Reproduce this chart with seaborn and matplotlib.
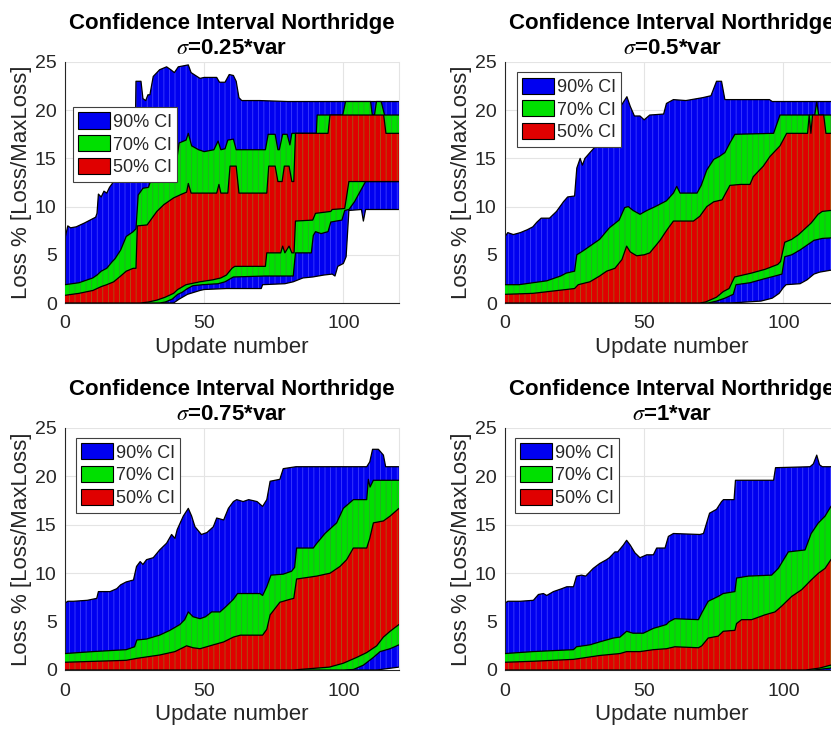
import numpy as np
import pandas as pd
import matplotlib
matplotlib.use("Agg")
import matplotlib.pyplot as plt
from matplotlib.patches import Patch
import seaborn as sns

sns.set_style("white")
plt.rcParams["font.family"] = ["Liberation Sans", "DejaVu Sans"]
plt.rcParams["mathtext.fontset"] = "stix"
plt.rcParams["hatch.linewidth"] = 0.5

# ---------------------------------------------------------------------------
# Confidence-interval envelopes (Loss %), one set per sigma scaling.
# Each bound is given by its own update numbers (x) and values (y).
# ---------------------------------------------------------------------------
sigma_labels = ["0.25", "0.5", "0.75", "1"]
ci_labels = ["90% CI", "70% CI", "50% CI"]

# sigma = 0.25*var
s025_hi90_x = [0, 1, 2, 4, 7, 9, 11, 11.5, 12, 13, 14, 15, 16, 17, 20, 23, 25.2, 25.5, 27.3, 28, 29, 29.8, 30.5,
               31.7, 34, 36.5, 38, 39.3, 40.7, 44.3, 45.3, 48.5, 50, 54.5, 55.5, 57.5, 59, 60.5, 61.5, 62.5, 63.5,
               70, 80, 120]
s025_hi90_y = [6.7, 8.0, 7.8, 7.9, 8.3, 8.6, 8.9, 9.3, 11.3, 11.0, 11.6, 11.4, 12.0, 12.4, 13.6, 15.0, 16.0, 23.0,
               23.0, 21.2, 21.0, 21.6, 21.6, 23.5, 24.2, 24.5, 24.2, 23.9, 24.5, 24.7, 23.9, 23.3, 23.4, 23.4, 22.9,
               22.9, 23.7, 23.6, 23.0, 21.3, 21.0, 21.0, 20.9, 20.9]
s025_lo90_x = [0, 39, 41, 44, 48.5, 50, 58, 70.5, 71, 79, 82, 85.5, 89, 93, 96, 97, 98, 100, 101, 102, 106.5,
               107.2, 108, 120]
s025_lo90_y = [0, 0, 0.4, 0.9, 1.3, 1.4, 1.5, 1.5, 1.9, 2.0, 2.2, 2.6, 2.7, 2.9, 3.0, 2.8, 3.8, 4.1, 4.8, 9.6, 9.7,
               8.5, 9.7, 9.7]
s025_hi70_x = [0, 5, 10, 11.5, 13, 15, 17, 18, 20, 22, 24.5, 25.5, 26.3, 28, 30, 31, 33, 36, 38, 40, 41, 43.5,
               44.3, 45.5, 48, 50, 53.5, 55, 56, 57.5, 58.5, 60.5, 61.5, 72, 73, 75.5, 76.5, 77, 78.2, 79.8, 80.8,
               81.5, 90.3, 90.6, 99.8, 100.8, 109.8, 110.4, 111.2, 111.9, 113.6, 114.8, 120]
s025_hi70_y = [1.9, 2.1, 2.6, 2.9, 3.3, 3.6, 4.3, 4.6, 5.5, 6.9, 7.4, 7.7, 11.2, 11.9, 12.0, 12.9, 13.1, 13.4, 13.8,
               14.5, 16.6, 16.9, 17.6, 16.3, 15.9, 15.7, 15.9, 16.8, 15.9, 16.0, 16.9, 17.0, 15.9, 15.9, 17.5, 17.5,
               15.9, 15.9, 17.5, 17.5, 16.4, 17.6, 17.6, 19.5, 19.5, 20.9, 20.9, 19.5, 19.5, 20.9, 20.9, 19.5, 19.5]
s025_lo70_x = [0, 34, 36, 38.5, 40.5, 42, 44, 46, 49.5, 55, 57.5, 60.5, 72, 82, 82.8, 88.5, 89.2, 90, 92, 94.5,
               95.5, 99.5, 100.5, 102, 104, 108, 120]
s025_lo70_y = [0, 0, 0.1, 0.4, 0.9, 1.1, 1.5, 1.8, 1.9, 2.0, 2.2, 2.7, 2.8, 2.8, 5.2, 5.2, 7.0, 7.4, 7.2, 7.4, 8.4,
               8.6, 9.6, 9.7, 10.5, 12.6, 12.6]
s025_hi50_x = [0, 5, 10, 13, 15, 17.5, 20, 22, 24.5, 25.5, 26, 29.5, 33, 35.5, 39, 42, 43.7, 44.3, 45.3, 54.5,
               55.3, 56, 58.5, 59.3, 61.5, 62.5, 72.5, 73.2, 75.5, 76.5, 78, 78.8, 80.5, 81.5, 82.2, 82.8, 94.5,
               95.2, 114.5, 115.3, 120]
s025_hi50_y = [0.8, 1.0, 1.3, 1.7, 1.9, 2.2, 2.8, 3.3, 3.6, 3.6, 8.0, 8.1, 9.5, 10.2, 10.9, 11.3, 11.5, 12.4, 11.4,
               11.4, 12.3, 11.4, 11.4, 14.2, 14.2, 11.4, 11.4, 14.2, 14.2, 12.6, 12.6, 14.2, 14.2, 12.6, 12.6, 17.6,
               17.6, 19.5, 19.5, 17.6, 17.6]
s025_lo50_x = [0, 27, 30, 33, 36, 39, 40.5, 43.5, 48.5, 53, 56, 58, 60, 61, 72, 72.5, 77.5, 78.2, 79, 80.5, 81.5,
               82.3, 82.8, 89, 90, 95.5, 96, 100.5, 102, 120]
s025_lo50_y = [0, 0, 0.1, 0.3, 0.6, 1.0, 1.4, 1.9, 2.2, 2.4, 2.6, 2.9, 3.6, 3.8, 3.8, 5.2, 5.2, 5.9, 5.2, 5.9, 5.2,
               5.2, 8.5, 8.6, 9.3, 9.5, 9.7, 9.8, 12.6, 12.6]

# sigma = 0.5*var
s050_hi90_x = [0, 1, 3, 5.5, 8, 10, 11.5, 13, 16, 18.5, 21, 22.5, 25, 25.8, 27, 27.8, 28.7, 30.5, 33, 34, 37, 40,
               42, 43.8, 45, 46.5, 48.5, 50, 52, 57, 58, 60.5, 65, 71, 74, 76, 77.8, 79, 95, 96, 120]
s050_hi90_y = [6.9, 7.3, 7.1, 7.3, 7.6, 7.9, 8.4, 8.8, 8.8, 9.5, 10.5, 11.0, 11.1, 14.0, 15.0, 14.3, 15.0, 15.6,
               16.4, 16.6, 18.0, 20.0, 20.6, 21.4, 20.4, 19.4, 19.4, 19.0, 19.5, 19.6, 20.7, 21.1, 21.0, 21.3, 21.5,
               23.0, 23.0, 21.1, 21.1, 20.9, 20.9]
s050_lo90_x = [0, 80, 84, 92, 96, 98.5, 100, 101, 106, 108.5, 111, 113, 117, 120]
s050_lo90_y = [0, 0, 0.05, 0.2, 0.5, 1.0, 1.6, 1.9, 2.0, 2.4, 3.0, 3.2, 3.4, 3.5]
s050_hi70_x = [0, 5, 10, 15, 20, 22, 25, 25.8, 28, 30.5, 34, 37.5, 41, 43, 44.3, 46, 48.5, 51, 54, 58, 60.5, 61.7,
               62.9, 69, 70.5, 72.5, 75, 77, 79, 80.8, 82.6, 96.5, 98.8, 111.3, 112, 112.7, 120]
s050_hi70_y = [1.9, 1.9, 2.1, 2.3, 2.8, 3.1, 3.3, 5.0, 5.4, 5.9, 6.6, 7.8, 8.6, 9.9, 10.0, 9.6, 9.2, 9.6, 10.0,
               10.6, 11.4, 12.1, 11.4, 11.4, 12.2, 13.8, 14.9, 15.2, 15.6, 16.6, 17.5, 17.6, 19.5, 19.5, 20.9, 19.5,
               19.5]
s050_lo70_x = [0, 73, 76, 79, 82, 83, 88, 93, 97, 99.5, 100.5, 103, 106, 108, 111, 114, 120]
s050_lo70_y = [0, 0, 0.2, 0.5, 0.9, 1.9, 2.1, 2.5, 2.8, 3.0, 4.8, 5.0, 5.5, 5.9, 6.5, 6.7, 6.8]
s050_hi50_x = [0, 10, 16, 22, 25, 26.3, 30.5, 34, 36.5, 39.5, 42, 43.7, 45, 47.3, 50, 52, 54, 55.7, 58, 60.5,
               67.7, 70, 72.5, 75, 78, 80.8, 84.5, 88, 89.2, 92.8, 95.2, 96.5, 98.8, 101.2, 108.7, 109.3, 109.9,
               110.5, 114.5, 115.3, 120]
s050_hi50_y = [0.9, 1.0, 1.2, 1.4, 1.5, 1.9, 2.2, 2.8, 3.3, 3.6, 4.5, 5.9, 5.3, 4.9, 5.0, 5.2, 5.9, 6.5, 7.5, 8.5,
               8.5, 9.0, 10.0, 10.5, 10.7, 12.2, 12.3, 12.3, 13.1, 14.2, 15.2, 15.6, 16.3, 17.6, 17.6, 19.5, 17.6,
               19.5, 19.5, 17.6, 17.6]
s050_lo50_x = [0, 70, 72, 76, 78.5, 80.5, 82.5, 88.5, 93.5, 98, 99, 100.5, 103, 105.5, 110, 112.5, 114, 120]
s050_lo50_y = [0, 0, 0.1, 0.6, 1.2, 1.5, 2.7, 3.1, 3.5, 4.0, 4.3, 6.3, 6.6, 7.1, 8.3, 9.2, 9.5, 9.7]

# sigma = 0.75*var
s075_hi90_x = [0, 1, 3, 8, 11.4, 12, 16.2, 18.6, 20, 22, 24.6, 25.7, 27, 28, 29.3, 31.7, 34, 36.5, 38.3, 39.5,
               40.3, 42.5, 44.3, 45.5, 46.7, 49, 51, 53.3, 54.5, 57, 58.7, 60.5, 61.7, 64, 66, 69, 71, 72.5, 73.7,
               77.2, 78.4, 83, 108.4, 109.5, 110.5, 112.6, 114.4, 115.2, 120]
s075_hi90_y = [6.9, 7.1, 7.1, 7.2, 7.4, 8.1, 8.1, 8.4, 8.8, 9.1, 9.3, 10.7, 11.2, 10.9, 11.4, 11.6, 12.4, 13.1,
               14.0, 13.6, 14.5, 15.9, 16.7, 15.9, 14.8, 14.0, 14.2, 14.8, 15.7, 15.5, 16.7, 17.4, 17.6, 17.4, 17.6,
               17.4, 16.9, 17.6, 19.5, 19.7, 20.8, 21.0, 21.0, 21.5, 22.8, 22.8, 22.2, 21.0, 21.0]
s075_lo90_x = [0, 112, 120]
s075_lo90_y = [0, 0, 0.3]
s075_hi70_x = [0, 10, 22, 25, 25.8, 29.3, 34, 37.7, 41.3, 43, 44.3, 46, 48.5, 50.5, 52.7, 55.7, 58, 60.5, 62, 70,
               71, 72.5, 74, 78.4, 81.4, 82.5, 83.2, 89.2, 90.5, 93.4, 97.6, 100, 103.6, 108.4, 109, 109.6, 110.8,
               120]
s075_hi70_y = [1.7, 1.9, 2.1, 2.4, 3.1, 3.2, 3.6, 4.1, 4.7, 5.2, 6.0, 5.5, 5.3, 5.5, 6.0, 6.0, 6.6, 7.3, 7.9, 7.9,
               7.7, 8.6, 9.8, 9.9, 10.2, 10.6, 12.6, 12.6, 13.1, 14.1, 15.2, 16.7, 17.6, 17.6, 19.7, 18.9, 19.6, 19.6]
s075_lo70_x = [0, 100, 103.6, 107.2, 110.8, 113.2, 116.8, 120]
s075_lo70_y = [0, 0, 0.05, 0.5, 1.3, 1.9, 2.2, 2.6]
s075_hi50_x = [0, 22, 25.7, 34, 39.5, 43.7, 46, 48.5, 53.3, 57, 60.5, 63, 71, 72.5, 73.7, 77.2, 80.8, 82.2, 83.2,
               90.4, 95.2, 98.8, 101.2, 103.6, 108.4, 109.5, 110.8, 114.4, 116.8, 120]
s075_hi50_y = [0.8, 1.0, 1.2, 1.55, 1.9, 2.5, 2.3, 2.2, 2.6, 2.9, 3.4, 3.6, 3.6, 4.2, 5.7, 7.0, 7.3, 7.4, 9.4, 9.7,
               10.0, 10.7, 11.4, 12.6, 12.6, 13.6, 15.2, 15.4, 15.9, 16.7]
s075_lo50_x = [0, 82, 95, 100, 104.8, 108.4, 112, 114.4, 116.8, 120]
s075_lo50_y = [0, 0, 0.3, 0.7, 1.3, 1.8, 2.5, 3.4, 4.0, 4.7]

# sigma = 1*var
s100_hi90_x = [0, 1, 5.4, 10.2, 12, 13.8, 15, 17.4, 20.4, 22.2, 24.6, 25.7, 27.5, 29, 31.7, 34, 36.5, 37.5, 39.5,
               40.5, 42.5, 43.7, 45, 46.7, 48.5, 50.9, 53.3, 54.5, 57.5, 58.7, 60.5, 70, 71.3, 73.5, 76, 77.8, 78.5,
               82.3, 82.8, 96.5, 97.2, 109.6, 110.8, 112, 113, 114, 120]
s100_hi90_y = [6.9, 7.1, 7.1, 7.2, 7.8, 7.9, 7.7, 8.1, 8.4, 8.6, 8.6, 9.7, 9.8, 9.7, 10.5, 11.0, 11.4, 11.6, 12.2,
               12.2, 12.9, 13.4, 12.9, 12.1, 11.6, 11.9, 11.9, 12.6, 12.6, 13.8, 14.1, 14.0, 14.1, 16.2, 16.6, 17.4,
               17.6, 17.6, 19.6, 19.6, 20.9, 21.0, 21.3, 22.2, 21.2, 21.0, 21.0]
s100_lo90_x = [0, 120]
s100_lo90_y = [0, 0]
s100_hi70_x = [0, 10, 24.6, 25.7, 30.5, 34, 38.9, 41.3, 43.7, 46, 49.7, 53.3, 55.7, 58, 59, 61, 69.5, 70.7, 73,
               76.6, 78.4, 82.6, 83.2, 87.4, 95.8, 98.2, 101.8, 107.8, 110, 112.6, 115, 117.1, 120]
s100_hi70_y = [1.7, 1.9, 2.1, 2.4, 2.6, 2.9, 3.3, 3.4, 4.0, 3.8, 3.8, 4.3, 4.5, 4.7, 5.0, 5.3, 5.2, 5.9, 7.1, 7.6,
               7.9, 8.1, 9.5, 9.7, 9.8, 10.5, 12.2, 12.4, 14.1, 15.2, 15.9, 16.9, 17.8]
s100_lo70_x = [0, 111, 117, 120]
s100_lo70_y = [0, 0, 0.2, 0.4]
s100_hi50_x = [0, 10, 24.6, 34, 41.3, 43.7, 48.5, 53.3, 58, 61, 69.5, 70.7, 73, 76.6, 78.4, 82.6, 83.2, 85, 88.6,
               93.4, 97, 99.4, 103, 106.6, 110, 112.6, 115, 117.1, 120]
s100_hi50_y = [0.8, 0.9, 1.1, 1.5, 1.7, 1.9, 1.9, 2.1, 2.2, 2.4, 2.3, 2.5, 3.3, 3.5, 4.0, 4.1, 4.8, 5.2, 5.2, 5.7,
               6.0, 6.6, 7.6, 8.3, 9.3, 10.0, 10.5, 11.4, 12.1]
s100_lo50_x = [0, 108, 113, 117, 120]
s100_lo50_y = [0, 0, 0.2, 0.5, 0.9]

# ---------------------------------------------------------------------------
# Styling
# ---------------------------------------------------------------------------
band_face = ["#0000f0", "#00e000", "#e00000"]
band_stripe = ["#4a4aff", "#2e9e2e", "#9a6a18"]
ink = "#262626"

panels = [
    dict(sigma=sigma_labels[0],
         bands=[((s025_hi90_x, s025_hi90_y), (s025_lo90_x, s025_lo90_y)),
                ((s025_hi70_x, s025_hi70_y), (s025_lo70_x, s025_lo70_y)),
                ((s025_hi50_x, s025_hi50_y), (s025_lo50_x, s025_lo50_y))],
         rect=[65, 62, 334, 241], legend_at=(0.024, 0.813)),
    dict(sigma=sigma_labels[1],
         bands=[((s050_hi90_x, s050_hi90_y), (s050_lo90_x, s050_lo90_y)),
                ((s050_hi70_x, s050_hi70_y), (s050_lo70_x, s050_lo70_y)),
                ((s050_hi50_x, s050_hi50_y), (s050_lo50_x, s050_lo50_y))],
         rect=[505, 62, 334, 241], legend_at=(0.036, 0.958)),
    dict(sigma=sigma_labels[2],
         bands=[((s075_hi90_x, s075_hi90_y), (s075_lo90_x, s075_lo90_y)),
                ((s075_hi70_x, s075_hi70_y), (s075_lo70_x, s075_lo70_y)),
                ((s075_hi50_x, s075_hi50_y), (s075_lo50_x, s075_lo50_y))],
         rect=[65, 428, 334, 242], legend_at=(0.033, 0.959)),
    dict(sigma=sigma_labels[3],
         bands=[((s100_hi90_x, s100_hi90_y), (s100_lo90_x, s100_lo90_y)),
                ((s100_hi70_x, s100_hi70_y), (s100_lo70_x, s100_lo70_y)),
                ((s100_hi50_x, s100_hi50_y), (s100_lo50_x, s100_lo50_y))],
         rect=[505, 428, 334, 242], legend_at=(0.030, 0.959)),
]

W, H = 831, 730
fig = plt.figure(figsize=(W / 100, H / 100), dpi=100)

for panel in panels:
    px, py, pw, ph = panel["rect"]
    ax = fig.add_axes([px / W, 1 - (py + ph) / H, pw / W, ph / H])
    ax.set_axisbelow(True)
    ax.grid(True, color="#e4e4e4", linewidth=0.8)

    for k, (upper, lower) in enumerate(panel["bands"]):
        ux, uy = np.asarray(upper[0], float), np.asarray(upper[1], float)
        lx, ly = np.asarray(lower[0], float), np.asarray(lower[1], float)
        ax.fill(np.concatenate([ux, lx[::-1]]), np.concatenate([uy, ly[::-1]]),
                facecolor=band_face[k], edgecolor=band_stripe[k], hatch="|||",
                linewidth=0, zorder=2 + k)
        bounds = pd.concat([
            pd.DataFrame({"x": ux, "y": uy, "curve": "upper"}),
            pd.DataFrame({"x": lx, "y": ly, "curve": "lower"}),
        ], ignore_index=True)
        sns.lineplot(data=bounds, x="x", y="y", units="curve", estimator=None, sort=False,
                     color="black", linewidth=0.9, ax=ax, zorder=2.5 + k, legend=False)

    ax.set_xlim(0, 120)
    ax.set_ylim(0, 25)
    ax.set_xticks([0, 50, 100])
    ax.set_yticks([0, 5, 10, 15, 20, 25])
    ax.tick_params(direction="in", length=4, width=0.8, colors=ink, labelsize=14)
    ax.tick_params(axis="x", pad=9)
    ax.tick_params(axis="y", pad=6)
    for side in ("left", "bottom"):
        ax.spines[side].set_color(ink)
        ax.spines[side].set_linewidth(0.8)
    ax.spines["top"].set_visible(False)
    ax.spines["right"].set_color("#e4e4e4")

    ax.set_xlabel("Update number", fontsize=16, color=ink, labelpad=3)
    ax.set_ylabel("Loss % [Loss/MaxLoss]", fontsize=16, color=ink, labelpad=2)
    ax.set_title("Confidence Interval Northridge\n$\\sigma$=" + panel["sigma"] + "*var",
                 fontsize=16, fontweight="bold", color="black", pad=6, linespacing=1.2)

    handles = [Patch(facecolor=band_face[k], edgecolor="black", linewidth=0.8, label=ci_labels[k])
               for k in range(3)]
    leg = ax.legend(handles=handles, loc="upper left", bbox_to_anchor=panel["legend_at"],
                    borderaxespad=0, fontsize=13, handlelength=1.75, handleheight=1.0,
                    handletextpad=0.15, labelspacing=0.25, borderpad=0.3, fancybox=False,
                    framealpha=1, edgecolor="#404040")
    leg.get_frame().set_linewidth(0.8)
    leg.set_zorder(10)

fig.savefig("out.png", dpi=100)
